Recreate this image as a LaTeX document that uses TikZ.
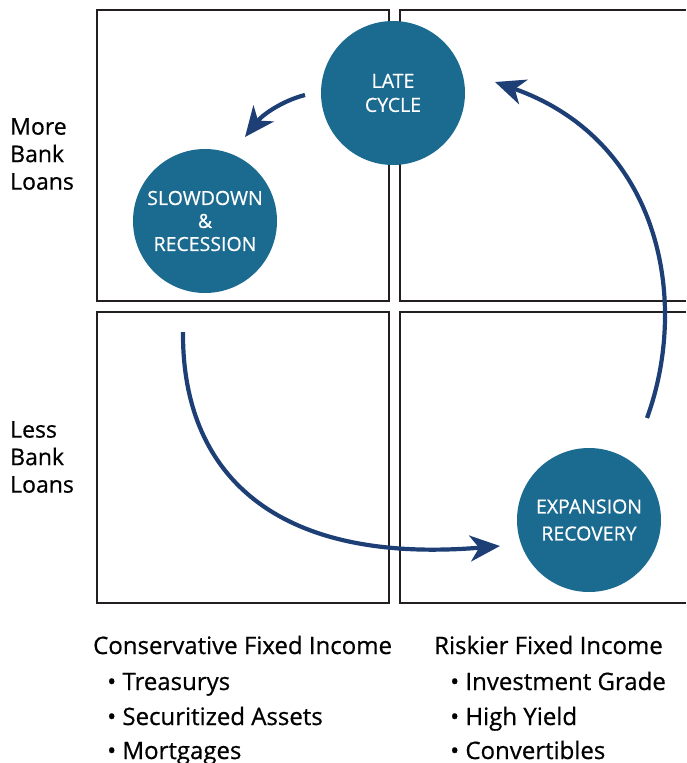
\documentclass[tikz,border=0pt]{standalone}
\usepackage{fontspec}
\setmainfont[FakeBold=0.6]{Open Sans}
\usetikzlibrary{arrows.meta}
\definecolor{teal}{HTML}{1B6A8F}
\definecolor{navy}{HTML}{1D3F75}
\definecolor{boxline}{HTML}{231F20}
\tikzset{
  quad/.style={draw=boxline, line width=2.4pt},
  phase/.style={circle, fill=teal, minimum size=144pt, inner sep=0pt, text=white, align=center, font=\fontsize{19.5}{24}\selectfont},
  cyc/.style={draw=navy, line width=4.2pt, -{Stealth[length=30pt,width=26pt,inset=9pt]}},
  side/.style={anchor=north west, align=left, font=\fontsize{23}{27.5}\selectfont, inner sep=0pt},
  bot/.style={anchor=base west, inner sep=0pt, font=\fontsize{24}{26}\selectfont}
}
\begin{document}
\begin{tikzpicture}[x=1pt,y=-1pt]
\useasboundingbox (0,0) rectangle (686,763);
% quadrants
\draw[quad] (97,10) rectangle (389,301);
\draw[quad] (97,312) rectangle (389,603);
\draw[quad] (686,10) -- (400,10) -- (400,301) -- (686,301);
\draw[quad] (686,312) -- (400,312) -- (400,603) -- (686,603);
% phases
\node[phase] (late) at (393,93) {LATE\\CYCLE};
\node[phase, font=\fontsize{19.5}{23}\selectfont] (slow) at (205,221) {SLOWDOWN\\\&\\RECESSION};
\node[phase, font=\fontsize{19.5}{27}\selectfont] (exp) at (589,520) {EXPANSION\\RECOVERY};
% arrows
\coordinate (a1s) at (305,95);
\coordinate (a1e) at (245,137);
\coordinate (a2s) at (183,332);
\coordinate (a2e) at (500,546);
\coordinate (a3s) at (647,418);
\coordinate (a3e) at (495,82);
\draw[cyc] (a1s) .. controls (285,100) and (264,113) .. (a1e);
\draw[cyc] (a2s) .. controls (182,470) and (270,565) .. (a2e);
\draw[cyc] (a3s) .. controls (690,300) and (660,140) .. (a3e);
% side labels
\node[side] (more) at (10,118) {More\\Bank\\Loans};
\node[side] (less) at (10,421) {Less\\Bank\\Loans};
% bottom lists
\node[bot] (cons) at (93,654) {Conservative Fixed Income};
\node[bot] (c1) at (107,690) {\textbullet\ Treasurys};
\node[bot] (c2) at (107,725) {\textbullet\ Securitized Assets};
\node[bot] (c3) at (107,759) {\textbullet\ Mortgages};
\node[bot] (risk) at (434,654) {Riskier Fixed Income};
\node[bot] (r1) at (450,690) {\textbullet\ Investment Grade};
\node[bot] (r2) at (450,725) {\textbullet\ High Yield};
\node[bot] (r3) at (450,759) {\textbullet\ Convertibles};
\end{tikzpicture}
\end{document}
